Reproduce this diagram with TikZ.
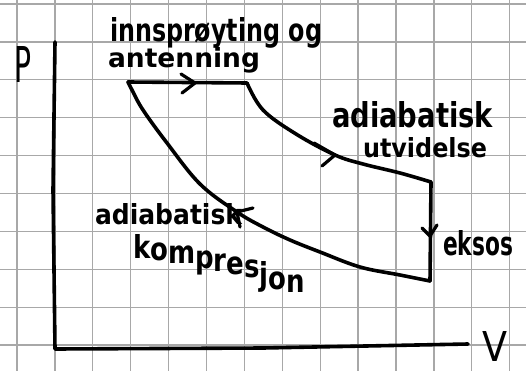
\documentclass[tikz,border=0pt]{standalone}
\usepackage{fontspec}
\setmainfont{DejaVu Sans}
\usepackage{graphicx}
\definecolor{gridgray}{HTML}{A8A8A8}
\tikzset{
  ink/.style={line width=3.6pt, line cap=round, line join=round, black},
  chev/.style={line width=3.2pt, line cap=round, line join=round, black},
  gridline/.style={line width=1.3pt, gridgray},
  lab/.style={inner sep=0pt, outer sep=0pt, anchor=base west, text=black, font=\bfseries}
}
\newcommand{\dn}[2]{\raisebox{-#1pt}{#2}}
\begin{document}
\begin{tikzpicture}[x=1pt,y=-1pt]
\useasboundingbox (0,0) rectangle (526,371);
\fill[white] (0,0) rectangle (526,371);
% grid
\foreach \k in {0,...,13} {
  \draw[gridline] ({17+37.9*\k},0) -- ({17+37.9*\k},371);
}
\foreach \k in {0,...,9} {
  \draw[gridline] (0,{4+37.9*\k}) -- (526,{4+37.9*\k});
}
% axes
\coordinate (ptop) at (55,42);
\coordinate (origin) at (55,349);
\coordinate (vend) at (468,344);
\draw[ink] (ptop) -- (53,190) -- (origin) -- (263,348) -- (vend);
\node[lab, font=\mdseries] (P) at (14,83) {\resizebox{17pt}{36pt}{P}};
\node[lab, font=\mdseries] (V) at (482,361) {\resizebox{25pt}{30pt}{V}};
% cycle points
\coordinate (A) at (128,82);
\coordinate (B) at (247,83);
\coordinate (C) at (431,182);
\coordinate (D) at (430,281);
% injection (constant pressure)
\draw[ink] (A) -- (B);
% adiabatic expansion
\draw[ink] plot[smooth, tension=0.6] coordinates {(247,83) (263,110) (296,134) (335,155) (363,164) (400,173) (431,182)};
% exhaust
\draw[ink] (C) -- (D);
% adiabatic compression
\draw[ink] plot[smooth, tension=0.6] coordinates {(430,281) (400,275) (360,267) (320,252) (290,240) (263,227) (237,212) (200,184) (167,143) (143,110) (132,90) (128,82)};
% arrow chevrons
\draw[chev] (181,74) -- (195,83) -- (182,93);
\draw[chev] (314,143) -- (335,155) -- (322,166);
\draw[chev] (422,228) -- (430,236) -- (437,225);
\draw[chev] (253,208) -- (237,212) -- (240,227);
% labels
\node[lab] (inj1) at (110,42) {\resizebox{212pt}{24pt}{innsprøyting og}};
\node[lab] (inj2) at (108,68) {\resizebox{152pt}{20pt}{antenning}};
\node[lab] (exp1) at (332,128) {\resizebox{161pt}{26pt}{adiabatisk}};
\node[lab] (exp2) at (363,158) {\resizebox{124pt}{20pt}{utvidelse}};
\node[lab] (cmp1) at (95,224) {\resizebox{147pt}{21pt}{adiabatisk}};
\node[lab] (cmp2) at (133,258) {\resizebox{172pt}{24pt}{k\dn{0.8}{o}\dn{1.6}{m}\dn{3.2}{p}\dn{4.2}{r}\dn{5.2}{e}\dn{6.2}{s}\dn{8.6}{j}\dn{10}{o}\dn{11}{n}}};
\node[lab] (exh) at (443,255) {\resizebox{70pt}{25pt}{eksos}};
\end{tikzpicture}
\end{document}
